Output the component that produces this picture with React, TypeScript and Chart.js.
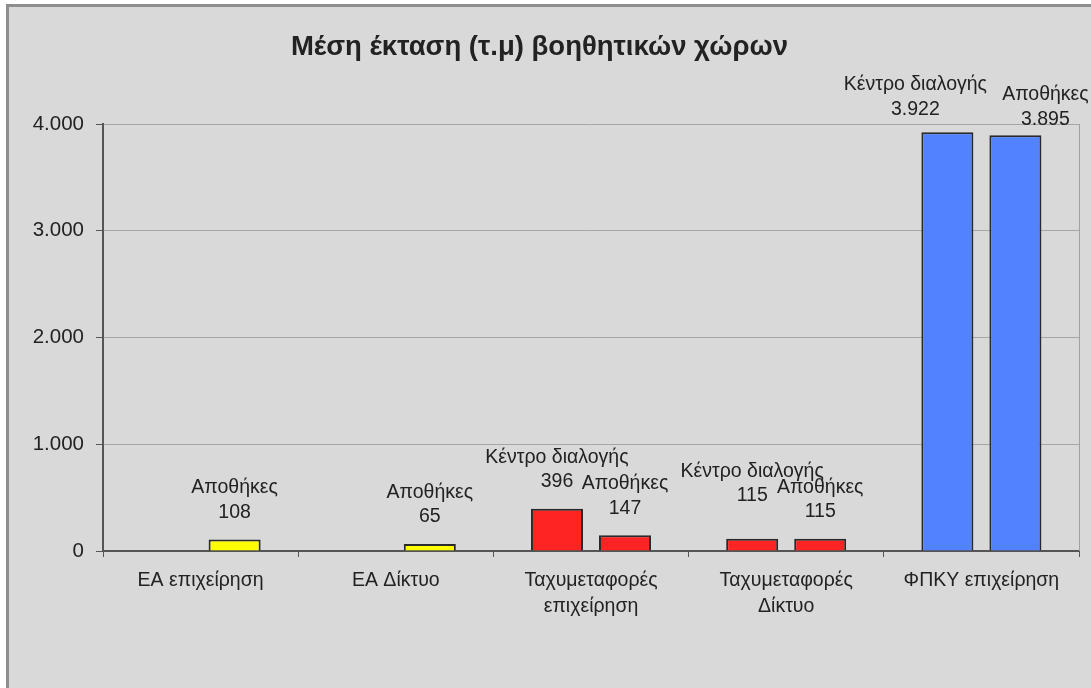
import React, { useEffect, useRef } from "react";
import { Chart, registerables } from "chart.js";

Chart.register(...registerables);

const TITLE = "Μέση έκταση (τ.μ) βοηθητικών χώρων";
const categories: (string | string[])[] = [
  "ΕΑ επιχείρηση",
  "ΕΑ Δίκτυο",
  ["Ταχυμεταφορές", "επιχείρηση"],
  ["Ταχυμεταφορές", "Δίκτυο"],
  "ΦΠΚΥ επιχείρηση",
];
const seriesNames = ["Κέντρο διαλογής", "Αποθήκες"];
const sortingCenter: (number | null)[] = [null, null, 396, 115, 3922];
const warehouses: (number | null)[] = [108, 65, 147, 115, 3895];
const yTicks = [0, 1000, 2000, 3000, 4000];

const categoryColors = ["#ffff00", "#ffff00", "#ff2424", "#ff2424", "#5282ff"];
const FONT = "'Liberation Sans', Arial, sans-serif";
const LABEL_SIZE = 19.5;

const fmt = (v: number) => String(v).replace(/\B(?=(\d{3})+(?!\d))/g, ".");

const framePlugin = {
  id: "frame",
  beforeDraw(chart: any) {
    const { ctx, width, height } = chart;
    ctx.save();
    ctx.fillStyle = "#ffffff";
    ctx.fillRect(0, 0, width, height);
    ctx.fillStyle = "#d9d9d9";
    ctx.fillRect(6, 4, width + 10, height + 10);
    ctx.strokeStyle = "#8e8e8e";
    ctx.lineWidth = 3;
    ctx.strokeRect(7.5, 5.5, width + 10, height + 10);
    ctx.restore();
  },
  afterDraw(chart: any) {
    const { ctx, chartArea } = chart;
    ctx.save();
    ctx.strokeStyle = "#a0a0a0";
    ctx.lineWidth = 1;
    ctx.beginPath();
    ctx.moveTo(Math.round(chartArea.right) + 0.5, chartArea.top);
    ctx.lineTo(Math.round(chartArea.right) + 0.5, chartArea.bottom);
    ctx.stroke();
    ctx.restore();
  },
};

const labelNudges: Record<string, { dx: number; dy: number }> = {
  "0-3": { dx: 0, dy: -16 },
  "0-4": { dx: -32, dy: 4 },
  "1-4": { dx: 30, dy: 11 },
};

const labelPlugin = {
  id: "barLabels",
  afterDatasetsDraw(chart: any) {
    const { ctx } = chart;
    ctx.save();
    ctx.font = `${LABEL_SIZE}px ${FONT}`;
    ctx.fillStyle = "#222";
    ctx.textAlign = "center";
    ctx.textBaseline = "middle";
    chart.data.datasets.forEach((ds: any, di: number) => {
      const meta = chart.getDatasetMeta(di);
      meta.data.forEach((bar: any, i: number) => {
        const v = ds.data[i];
        if (v === null || v === undefined) return;
        const n = labelNudges[`${di}-${i}`] || { dx: 0, dy: 0 };
        const x = bar.x + n.dx;
        const yb = bar.y - 27 + n.dy;
        ctx.fillText(ds.label, x, yb - 24.5);
        ctx.fillText(fmt(v), x, yb);
      });
    });
    ctx.restore();
  },
};

export default function App() {
  const ref = useRef<HTMLCanvasElement>(null);
  useEffect(() => {
    document.body.style.margin = "0";
    const chart = new Chart(ref.current!, {
      type: "bar",
      data: {
        labels: categories,
        datasets: [
          {
            label: seriesNames[0],
            data: sortingCenter,
            backgroundColor: categoryColors,
            borderColor: "#2a2a2a",
            borderWidth: 2,
          },
          {
            label: seriesNames[1],
            data: warehouses,
            backgroundColor: categoryColors,
            borderColor: "#2a2a2a",
            borderWidth: 2,
          },
        ],
      },
      options: {
        animation: false,
        responsive: false,
        maintainAspectRatio: false,
        layout: { padding: { left: 0, right: 12, top: 0, bottom: 0 } },
        datasets: { bar: { categoryPercentage: 0.697, barPercentage: 0.765 } },
        plugins: {
          legend: { display: false },
          tooltip: { enabled: false },
          title: {
            display: true,
            text: TITLE,
            color: "#222",
            font: { family: FONT, size: 27.5, weight: "bold", lineHeight: 1.2 },
            padding: { top: 31, bottom: 60 },
          },
        },
        scales: {
          x: {
            grid: {
              offset: true,
              drawOnChartArea: false,
              drawTicks: true,
              tickLength: 6,
              color: "#555",
              tickColor: "#555",
            },
            border: { color: "#555", width: 2 },
            ticks: {
              color: "#222",
              font: { family: FONT, size: LABEL_SIZE, lineHeight: 1.37 },
              padding: 10,
              maxRotation: 0,
              autoSkip: false,
            },
            afterFit: (scale: any) => {
              scale.height = 137;
            },
          },
          y: {
            min: 0,
            max: 4000,
            afterBuildTicks: (scale: any) => {
              scale.ticks = yTicks.map((v) => ({ value: v }));
            },
            grid: {
              color: "#a6a6a6",
              tickColor: "#555",
              tickLength: 7,
              lineWidth: 1,
            },
            border: { color: "#555", width: 2 },
            ticks: {
              color: "#222",
              font: { family: FONT, size: 20.5 },
              padding: 12,
              callback: (v: any) => fmt(Number(v)),
            },
            afterFit: (scale: any) => {
              scale.width = 103;
            },
          },
        },
      },
      plugins: [framePlugin, labelPlugin],
    } as any);
    return () => chart.destroy();
  }, []);
  return <canvas ref={ref} width={1091} height={688} style={{ display: "block" }} />;
}
